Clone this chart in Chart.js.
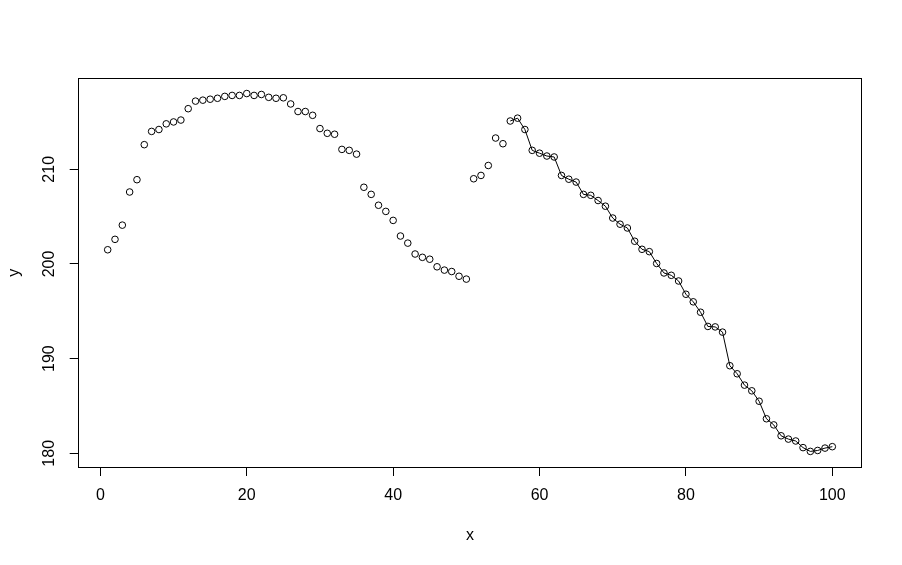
<!DOCTYPE html>
<html>
<head>
<meta charset="utf-8">
<script src="https://cdn.jsdelivr.net/npm/chart.js@4.4.0/dist/chart.umd.min.js"></script>
<style>
html,body{margin:0;padding:0;background:#fff;}
canvas{display:block;}
</style>
</head>
<body>
<canvas id="c" width="902" height="565"></canvas>
<script>
// ---- data ----
const xValues = [];
for (let i = 1; i <= 100; i++) xValues.push(i);
const yValues = [
  201.5, 202.6, 204.1, 207.6, 208.9, 212.6, 214.0, 214.2, 214.8, 215.0,
  215.2, 216.4, 217.2, 217.3, 217.4, 217.5, 217.7, 217.8, 217.8, 218.0,
  217.8, 217.9, 217.6, 217.5, 217.55, 216.9, 216.1, 216.1, 215.7, 214.3,
  213.8, 213.7, 212.1, 212.0, 211.6, 208.1, 207.35, 206.2, 205.55, 204.6,
  202.95, 202.2, 201.05, 200.7, 200.5, 199.7, 199.35, 199.2, 198.7, 198.4,
  209.0, 209.35, 210.4, 213.3, 212.7, 215.1, 215.4, 214.2, 212.0, 211.7,
  211.4, 211.3, 209.35, 208.95, 208.65, 207.35, 207.25, 206.7, 206.1, 204.85,
  204.2, 203.8, 202.4, 201.55, 201.3, 200.05, 199.05, 198.8, 198.2, 196.8,
  196.0, 194.9, 193.4, 193.35, 192.8, 189.25, 188.4, 187.2, 186.6, 185.5,
  183.65, 183.0, 181.85, 181.5, 181.3, 180.6, 180.2, 180.3, 180.55, 180.7
];
const lineStartX = 56;            // points from here on are joined by a line
const xTicks = [0, 20, 40, 60, 80, 100];
const yTicks = [180, 190, 200, 210];
const xTitle = 'x';
const yTitle = 'y';

const scatterPts = [], linePts = [];
xValues.forEach((x, i) => {
  const p = {x: x, y: yValues[i]};
  if (x < lineStartX) scatterPts.push(p); else linePts.push(p);
});

const FONT = '"Liberation Sans", Arial, sans-serif';

const boxPlugin = {
  id: 'rbox',
  afterDraw(chart) {
    const ctx = chart.ctx, a = chart.chartArea;
    ctx.save();
    ctx.strokeStyle = '#000';
    ctx.lineWidth = 1;
    const l = Math.floor(a.left) + 0.5, t = Math.floor(a.top) + 0.5;
    const r = Math.floor(a.right) + 0.5, b = Math.floor(a.bottom) + 0.5;
    ctx.strokeRect(l, t, r - l, b - t);
    // y tick labels, rotated like R (las = 0)
    const ys = chart.scales.y;
    ctx.fillStyle = '#000';
    ctx.font = '16px ' + FONT;
    ctx.textAlign = 'center';
    ctx.textBaseline = 'middle';
    ys.ticks.forEach(tk => {
      const py = ys.getPixelForValue(tk.value);
      ctx.save();
      ctx.translate(50, py);
      ctx.rotate(-Math.PI / 2);
      ctx.fillText(String(tk.value), 0, 0);
      ctx.restore();
    });
    ctx.restore();
  }
};

new Chart(document.getElementById('c'), {
  type: 'scatter',
  data: {
    datasets: [
      {
        data: scatterPts,
        showLine: false,
        pointStyle: 'circle',
        pointRadius: 3.3,
        pointBorderWidth: 1,
        pointBorderColor: '#000',
        pointBackgroundColor: 'rgba(0,0,0,0)'
      },
      {
        data: linePts,
        showLine: true,
        borderColor: '#000',
        borderWidth: 1,
        tension: 0,
        pointStyle: 'circle',
        pointRadius: 3.3,
        pointBorderWidth: 1,
        pointBorderColor: '#000',
        pointBackgroundColor: 'rgba(0,0,0,0)'
      }
    ]
  },
  options: {
    responsive: false,
    animation: false,
    devicePixelRatio: 1,
    layout: {padding: {top: 78.3, right: 40.7, left: 0, bottom: 0}},
    plugins: {legend: {display: false}, tooltip: {enabled: false}},
    scales: {
      x: {
        type: 'linear',
        min: -2.96,
        max: 103.96,
        afterBuildTicks: s => { s.ticks = xTicks.map(v => ({value: v})); },
        afterFit: s => { s.height = 98; },
        grid: {display: true, drawOnChartArea: false, drawTicks: true, tickLength: 9, color: '#000', lineWidth: 1},
        border: {display: false},
        ticks: {
          color: '#000',
          font: {family: FONT, size: 16},
          padding: 10,
          maxRotation: 0,
          autoSkip: false,
          callback: v => String(v)
        },
        title: {display: true, text: xTitle, color: '#000', font: {family: FONT, size: 16}, padding: {top: 0, bottom: 19.4}}
      },
      y: {
        type: 'linear',
        min: 178.553,
        max: 219.61,
        afterBuildTicks: s => { s.ticks = yTicks.map(v => ({value: v})); },
        afterFit: s => { s.width = 78.7; },
        grid: {display: true, drawOnChartArea: false, drawTicks: true, tickLength: 9, color: '#000', lineWidth: 1},
        border: {display: false},
        ticks: {display: false, autoSkip: false},
        title: {display: true, text: yTitle, color: '#000', font: {family: FONT, size: 16}, padding: {top: 5.4, bottom: 0}}
      }
    }
  },
  plugins: [boxPlugin]
});
</script>
</body>
</html>
